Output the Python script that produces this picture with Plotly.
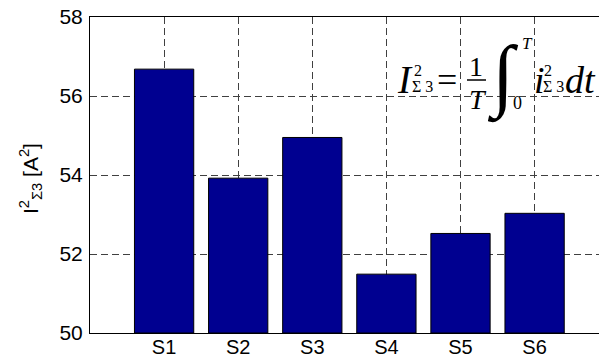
import plotly.graph_objects as go

categories = ["S1", "S2", "S3", "S4", "S5", "S6"]
values = [56.68, 53.92, 54.95, 51.49, 52.52, 53.03]
y_ticks = [50, 52, 54, 56, 58]

W, H = 599, 358
ML, MR, MT, MB = 90, 0, 17, 25
PW, PH = W - ML - MR, H - MT - MB

def px(x):
    return (x - ML) / PW

def py(y):
    return (H - MB - y) / PH

xpos = list(range(1, len(categories) + 1))

fig = go.Figure()
fig.add_trace(go.Bar(
    x=xpos, y=[v - 50 for v in values], base=50, width=0.8,
    marker=dict(color="#000090", line=dict(color="#000000", width=1)),
    hoverinfo="skip",
))

grid = dict(showgrid=True, gridcolor="#404040", gridwidth=1, griddash="7px,4px")
fig.update_layout(
    width=W, height=H,
    margin=dict(l=ML, r=MR, t=MT, b=MB),
    paper_bgcolor="white", plot_bgcolor="white",
    showlegend=False,
    font=dict(family="Liberation Sans, Arial", size=21, color="black"),
    xaxis=dict(range=[0, PW / 74.1], tickvals=xpos, ticktext=categories,
               showline=True, linecolor="black", linewidth=1, mirror=True,
               zeroline=False, ticks="", tickfont=dict(size=20),
               automargin=False, ticklabelstandoff=-4, **grid),
    yaxis=dict(range=[50, 58], tickvals=y_ticks, ticktext=[str(t) for t in y_ticks],
               showline=True, linecolor="black", linewidth=1, mirror=False,
               zeroline=False, ticks="", tickfont=dict(size=21),
               automargin=False, ticklabelstandoff=2, **grid),
)

ann = []
def t(text, x, y, size, angle=0, family="Liberation Serif, Times New Roman"):
    ann.append(dict(text=text, x=px(x), y=py(y), xref="paper", yref="paper",
                    xanchor="center", yanchor="middle", showarrow=False,
                    textangle=angle, font=dict(family=family, size=size, color="black")))

# y-axis title
t("I<sup>2</sup><sub>Σ3</sub> [A<sup>2</sup>]", 30, 179, 21, angle=-90,
  family="Liberation Sans, Arial")

# equation
t("<i>I</i>", 405, 80, 39)
t("2", 418, 70, 16)
t("Σ 3", 422, 87, 16)
t("=", 447, 80, 36)
t("1", 476, 66, 28)
t("<i>T</i>", 477.5, 99, 28)
t("∫", 503, 76, 80)
t("0", 517, 103, 18)
t("<i>T</i>", 527, 43.5, 17)
t("<i>i</i>", 539, 80, 38)
t("2", 548, 70, 16)
t("Σ 3", 553, 87, 16)
t("<i>dt</i>", 580, 80, 38)
fig.update_layout(annotations=ann)

fig.add_shape(type="line", xref="paper", yref="paper",
              x0=px(467), x1=px(486), y0=py(80), y1=py(80),
              line=dict(color="black", width=1.5))

fig.write_html("out.html")
